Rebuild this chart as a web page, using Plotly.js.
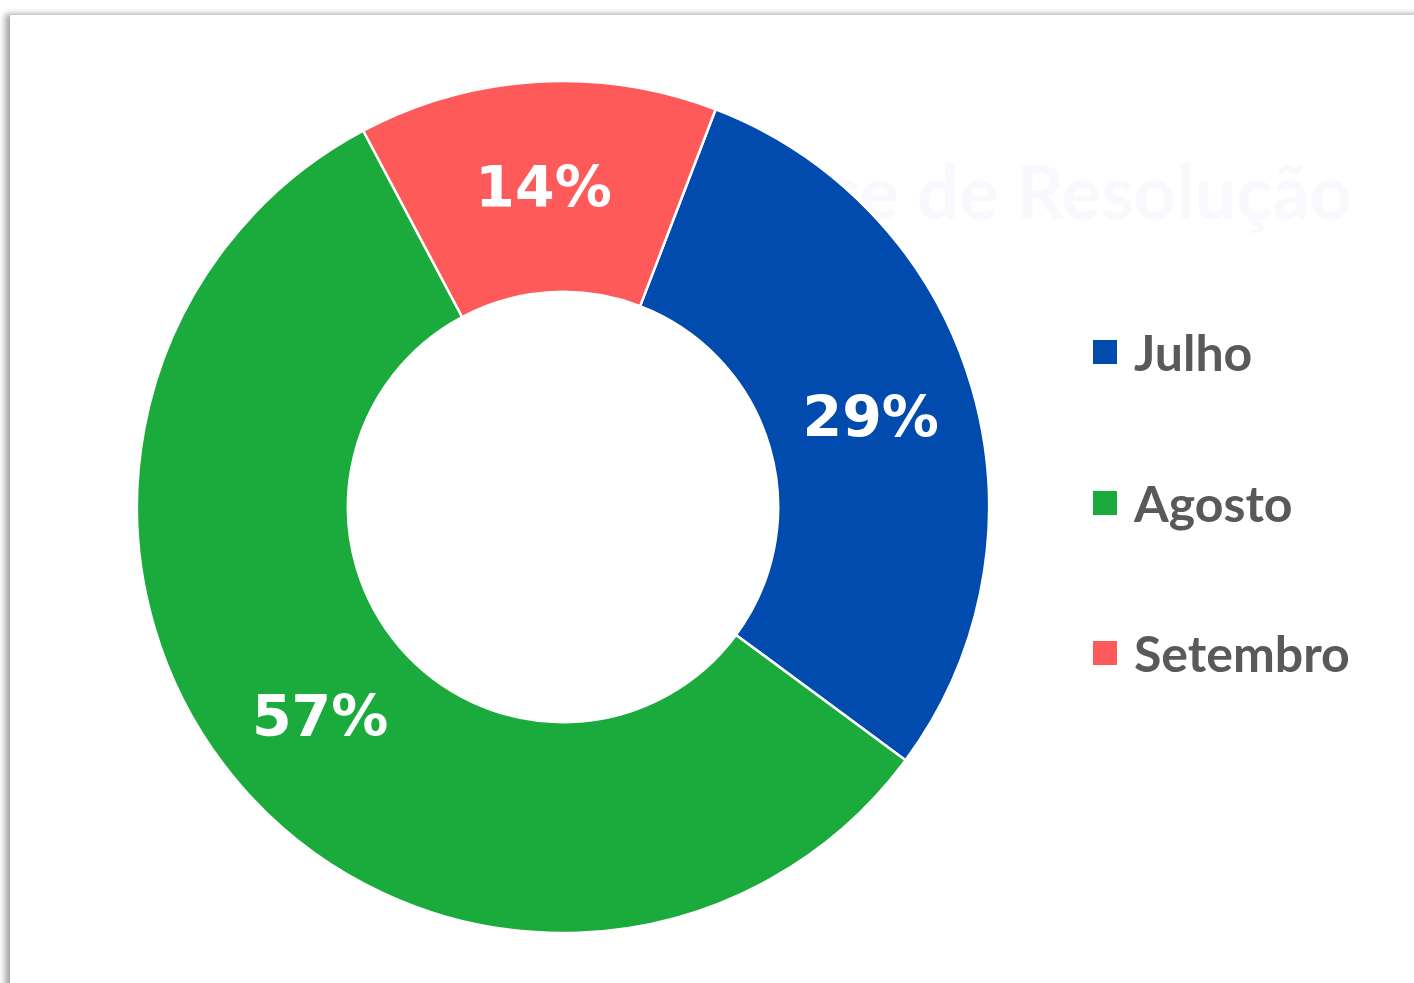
<!DOCTYPE html>
<html>
<head>
<meta charset="utf-8">
<script src="https://cdn.plot.ly/plotly-3.0.1.min.js"></script>
<style>
  html, body { margin: 0; padding: 0; background: #ffffff; overflow: hidden; }
  #card { position: absolute; left: 10px; top: 15px; width: 1420px; height: 1000px; background: #fff;
          box-shadow: -5px -1px 6px rgba(0,0,0,0.35); }
  #bgtitle { position: absolute; right: 62px; top: 154px; font-family: Lato, sans-serif; font-weight: 700;
             font-size: 74px; color: #f7f9fc; white-space: nowrap; line-height: 1; }
  #chart { position: absolute; left: 0; top: 0; width: 1414px; height: 983px; }
  #legend { position: absolute; left: 1093px; top: 0; font-family: Lato, sans-serif; font-weight: 700;
            font-size: 50px; color: #595959; }
  .item { position: absolute; left: 0; display: flex; align-items: center; white-space: nowrap; }
  .sw { width: 24px; height: 24px; margin-right: 17px; }
</style>
</head>
<body>
<div id="card"></div>
<div id="bgtitle">Índice de Resolução</div>
<div id="chart"></div>
<div id="legend"></div>
<script>
const labels = ['Julho', 'Agosto', 'Setembro'];
const values = [29.3, 57.1, 13.6];
const colors = ['#004BAD', '#1BAA3C', '#FF5A5A'];

const W = 1414, H = 983;
const cx = 563, cy = 507, R = 426;

Plotly.newPlot('chart', [{
  type: 'pie',
  labels: labels,
  values: values,
  sort: false,
  direction: 'clockwise',
  rotation: 21,
  hole: 0.505,
  marker: { colors: colors, line: { color: '#ffffff', width: 2.5 } },
  texttemplate: '%{percent:.0%}',
  textposition: 'inside',
  insidetextorientation: 'horizontal',
  textfont: { family: 'DejaVu Sans', size: 57, color: '#ffffff', weight: 'bold' },
  domain: { x: [(cx - R) / W, (cx + R) / W], y: [1 - (cy + R) / H, 1 - (cy - R) / H] },
  showlegend: false,
  hoverinfo: 'label+percent'
}], {
  width: W, height: H,
  margin: { l: 0, r: 0, t: 0, b: 0 },
  paper_bgcolor: 'rgba(0,0,0,0)',
  plot_bgcolor: 'rgba(0,0,0,0)',
  showlegend: false
}, { displayModeBar: false, staticPlot: true });

// legend built from the same arrays
const legendEl = document.getElementById('legend');
const centers = [354, 505, 655];
labels.forEach((lab, i) => {
  const it = document.createElement('div');
  it.className = 'item';
  it.style.top = (centers[i] - 32) + 'px';
  it.style.height = '60px';
  const sw = document.createElement('div');
  sw.className = 'sw';
  sw.style.background = colors[i];
  const tx = document.createElement('span');
  tx.textContent = lab;
  it.appendChild(sw);
  it.appendChild(tx);
  legendEl.appendChild(it);
});
</script>
</body>
</html>
